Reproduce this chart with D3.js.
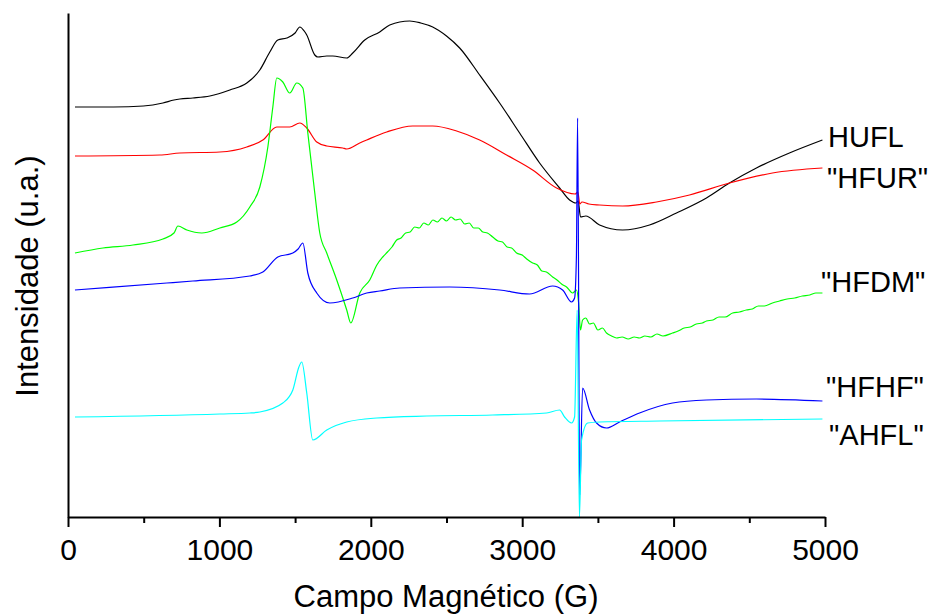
<!DOCTYPE html>
<html>
<head>
<meta charset="utf-8">
<script src="https://cdn.jsdelivr.net/npm/d3@7"></script>
<style>
  html, body { margin: 0; padding: 0; background: #fff; }
  svg { display: block; font-family: "Liberation Sans", Arial, sans-serif; }
</style>
</head>
<body>
<svg id="chart" width="936" height="616"></svg>
<script>
// ---- data (field in G, intensity in arbitrary units) ----
const seriesNames = ["HUFL", "\"HFUR\"", "\"HFDM\"", "\"HFHF\"", "\"AHFL\""];
const seriesColors = ["#000000", "#ff0000", "#00ff00", "#0000ff", "#00ffff"];

const hufl = [
  [46,410],[300,410],[498,411],[627,414],[700,417],[739,418],[825,419],[937,421],[1069,427],[1181,434],[1267,447],
  [1333,465],[1386,477],[1445,479],[1500,484],[1531,490],[1560,486],[1577,482],[1630,462],[1650,460],
  [1709,461],[1749,461],[1841,459],[1881,464],[1960,477],[2059,485],[2125,492],[2257,496],[2330,494],
  [2409,490],[2500,481],[2587,469],[2719,442],[2851,414],[2983,384],[3115,354],[3247,329],[3313,317],
  [3355,314],[3370,316],[3385,300],[3420,301],[3511,292],[3663,287],[3841,292],[4019,304],[4217,319],
  [4369,334],[4547,349],[4765,364],[4983,377]
];
const hfur = [
  [46,361],[607,362],[739,364],[1003,365],[1181,370],[1287,377],[1379,390],[1465,390],[1531,394],
  [1577,389],[1643,375],[1709,371],[1815,369],[1841,368],[1927,374],[1973,377],[2105,385],[2277,391],
  [2409,391],[2567,386],[2719,377],[2897,362],[3069,347],[3227,329],[3350,323],[3368,325],[3380,313],
  [3395,315],[3440,313],[3511,312],[3663,311],[3887,315],[4105,322],[4369,334],[4653,344],[4983,349]
];
const hfdm = [
  [46,264],[231,269],[429,272],[627,278],[700,284],[726,291],[785,287],[884,284],[1003,289],[1115,295],
  [1201,310],[1267,330],[1320,370],[1353,410],[1379,439],[1419,435],[1465,424],[1511,434],[1551,429],
  [1584,384],[1630,324],[1663,284],[1709,264],[1775,237],[1841,207],[1868,194],[1927,224],[1993,237],
  [2040,252],[2079,260],[2110,265],[2140,270],[2171,277],[2200,279],[2230,284],[2260,285],[2290,290],
  [2320,289],[2350,294],[2380,292],[2410,297],[2440,295],[2470,299],[2500,296],[2530,300],[2560,297],
  [2590,298],[2620,293],[2650,294],[2680,289],[2710,289],[2740,285],[2770,284],[2805,280],[2840,276],
  [2870,275],[2900,270],[2930,269],[2963,264],[3000,262],[3030,258],[3069,254],[3100,252],[3130,246],
  [3160,245],[3201,240],[3230,237],[3260,233],[3293,230],[3333,224],[3359,227],[3372,215],[3385,187],
  [3399,197],[3420,199],[3445,193],[3470,194],[3500,187],[3530,189],[3557,184],[3590,181],[3623,179],
  [3660,180],[3700,178],[3740,180],[3775,179],[3810,181],[3850,180],[3890,183],[3930,181],[3993,184],
  [4030,186],[4070,189],[4110,190],[4150,193],[4190,194],[4217,196],[4260,197],[4300,200],[4340,200],
  [4390,204],[4435,205],[4480,207],[4520,208],[4560,211],[4600,211],[4653,214],[4700,216],[4750,218],
  [4800,219],[4850,221],[4900,222],[4940,224],[4983,224]
];
const hfhf = [
  [46,227],[653,234],[825,236],[1201,241],[1287,245],[1386,260],[1485,264],[1520,268],[1551,274],
  [1584,244],[1643,224],[1729,214],[1881,219],[1973,224],[2059,226],[2191,229],[2521,230],[2851,227],
  [3049,223],[3201,231],[3267,227],[3326,215],[3346,219],[3358,260],[3366,399],[3380,22],[3399,129],
  [3445,107],[3491,94],[3557,89],[3643,95],[3775,104],[3993,114],[4217,117],[4547,118],[4983,116]
];
const ahfl = [
  [46,100],[1003,103],[1201,104],[1267,105],[1419,114],[1485,127],[1525,150],[1544,155],[1577,124],
  [1617,77],[1709,87],[1841,95],[2039,99],[2369,101],[2805,102],[3161,104],[3247,107],[3280,100],
  [3326,94],[3346,100],[3363,207],[3378,0],[3392,77],[3432,94],[3511,95],[3907,96],[4983,98]
];
const seriesData = [hufl, hfur, hfdm, hfhf, ahfl];
// label anchor intensities (baseline of each end label)
const labelIntensity = [370, 329, 225, 120, 72];

const majorTicks = [0, 1000, 2000, 3000, 4000, 5000];
const minorTicks = [500, 1500, 2500, 3500, 4500];
const xTitle = "Campo Magnético (G)";
const yTitle = "Intensidade (u.a.)";

// ---- layout ----
const svg = d3.select("#chart");
const x = d3.scaleLinear().domain([0, 5000]).range([68, 825]);
const y = d3.scaleLinear().domain([0, 504]).range([517, 13]);

const line = d3.line().x(d => x(d[0])).y(d => y(d[1])).curve(d3.curveMonotoneX);

svg.append("g").selectAll("path")
  .data(seriesData)
  .join("path")
  .attr("d", line)
  .attr("fill", "none")
  .attr("stroke", (d, i) => seriesColors[i])
  .attr("stroke-width", 1.2)
  .attr("stroke-linejoin", "round");

// x axis
const xAxis = svg.append("g").attr("transform", `translate(0,${y(0)})`)
  .call(d3.axisBottom(x).tickValues(majorTicks).tickSize(10).tickSizeOuter(0).tickFormat(d3.format("d")));
xAxis.select(".domain").attr("stroke", "#000").attr("stroke-width", 2);
xAxis.selectAll(".tick line").attr("stroke", "#000").attr("stroke-width", 2);
xAxis.selectAll(".tick text")
  .attr("font-size", 30).attr("font-family", "Liberation Sans, Arial, sans-serif")
  .attr("fill", "#000").attr("dy", null).attr("y", 43);

const xMinor = svg.append("g").attr("transform", `translate(0,${y(0)})`)
  .call(d3.axisBottom(x).tickValues(minorTicks).tickSize(6).tickSizeOuter(0).tickFormat(""));
xMinor.select(".domain").remove();
xMinor.selectAll(".tick line").attr("stroke", "#000").attr("stroke-width", 2);

// y axis (line only)
const yAxis = svg.append("g").attr("transform", `translate(${x(0)},0)`)
  .call(d3.axisLeft(y).tickValues([]).tickSizeOuter(0));
yAxis.select(".domain").attr("stroke", "#000").attr("stroke-width", 2);

// titles
svg.append("text")
  .attr("x", 446).attr("y", 607)
  .attr("text-anchor", "middle")
  .attr("font-size", 31)
  .attr("fill", "#000")
  .text(xTitle);

svg.append("text")
  .attr("transform", "translate(38,276) rotate(-90)")
  .attr("text-anchor", "middle")
  .attr("font-size", 31)
  .attr("fill", "#000")
  .text(yTitle);

// end labels
const labelDx = [3, 2, -4, 1, 4];
svg.append("g").selectAll("text")
  .data(seriesNames)
  .join("text")
  .attr("x", (d, i) => x(5000) + labelDx[i])
  .attr("y", (d, i) => y(labelIntensity[i]))
  .attr("font-size", 29)
  .attr("fill", "#000")
  .text(d => d);
</script>
</body>
</html>
